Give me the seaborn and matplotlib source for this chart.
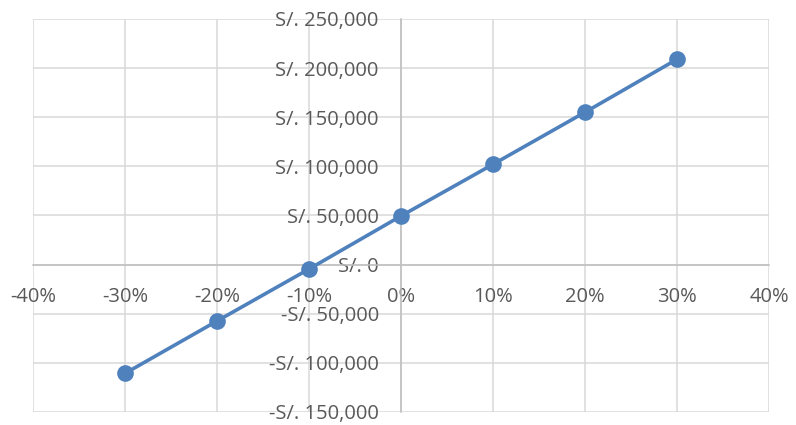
import matplotlib
matplotlib.use("Agg")
import matplotlib.pyplot as plt
import seaborn as sns
import pandas as pd
from matplotlib.ticker import FuncFormatter, MultipleLocator

# Sensitivity: percentage change vs. resulting value (S/.)
variation = [-0.30, -0.20, -0.10, 0.00, 0.10, 0.20, 0.30]
value = [-110700, -57400, -4500, 49500, 102100, 155100, 209000]

df = pd.DataFrame({"variation": variation, "value": value})

sns.set_theme(style="white")
plt.rcParams["font.family"] = ["Open Sans", "DejaVu Sans"]

W, H = 796, 425
fig = plt.figure(figsize=(W / 100, H / 100), dpi=100)
ax = fig.add_axes([33 / W, 1 - 412 / H, (769 - 33) / W, (412 - 19) / H])

sns.lineplot(data=df, x="variation", y="value", ax=ax, color="#4f81bd",
             linewidth=2.6, marker="o", markersize=12, markeredgewidth=0,
             zorder=3)

ax.set_xlim(-0.40, 0.40)
ax.set_ylim(-150000, 250000)
ax.xaxis.set_major_locator(MultipleLocator(0.10))
ax.yaxis.set_major_locator(MultipleLocator(50000))

ax.xaxis.set_major_formatter(FuncFormatter(lambda v, p: f"{v * 100:.0f}%"))

def soles(v, p):
    v = int(round(v))
    if v < 0:
        return f"-S/. {abs(v):,}"
    return f"S/. {v:,}"

ax.yaxis.set_major_formatter(FuncFormatter(soles))

ax.grid(True, color="#d9d9d9", linewidth=1.1, zorder=0)
ax.set_axisbelow(True)

# Axes cross at zero
ax.spines["left"].set_position(("data", 0))
ax.spines["bottom"].set_position(("data", 0))
for s in ("left", "bottom"):
    ax.spines[s].set_color("#bfbfbf")
    ax.spines[s].set_linewidth(1.1)
for s in ("top", "right"):
    ax.spines[s].set_visible(False)

ax.tick_params(axis="both", length=0, labelsize=14.5, labelcolor="#595959")
ax.tick_params(axis="x", pad=16)
ax.tick_params(axis="y", pad=16)
ax.set_xlabel("")
ax.set_ylabel("")

fig.savefig("out.png", dpi=100)
